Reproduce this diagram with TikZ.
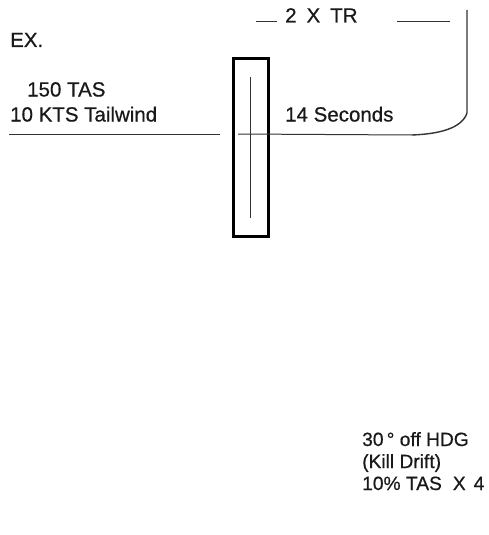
\documentclass[tikz,border=0pt]{standalone}
\usepackage{fontspec}
\setmainfont{Liberation Sans}[FakeBold=0.6]
\begin{document}
\begin{tikzpicture}[x=1pt,y=-1pt,
  lbl/.style={anchor=base west,inner sep=0pt,text=black!90,font=\fontsize{20.5}{24}\selectfont},
  lbls/.style={lbl,font=\fontsize{19.2}{22}\selectfont},
  thin line/.style={draw=black!80,line width=1pt},
  frame/.style={draw=black,line width=2.4pt}]
\useasboundingbox (0,0) rectangle (489,535);
% texts
\node[lbl] (ex) at (10,47) {EX.};
\node[lbl] (tr) at (285,22.5) {2\hspace{10pt}X\hspace{10pt}TR};
\node[lbl] (tas) at (27,96.5) {150 TAS};
\node[lbl] (tail) at (10,121.5) {10 KTS Tailwind};
\node[lbl] (sec) at (285,121.5) {14 Seconds};
\node[lbls] (hdg) at (362,446) {30\,°\ off HDG};
\node[lbls] (kill) at (362,468) {(Kill Drift)};
\node[lbls] (pct) at (362,490) {10\% TAS\hspace{11pt}X\hspace{8pt}4};
% coordinates
\coordinate (ul1) at (256,21.7);
\coordinate (ul2) at (277,21.7);
\coordinate (tl1) at (397,21.7);
\coordinate (tl2) at (450,21.7);
\coordinate (vt) at (467,10);
\coordinate (vb) at (467,113);
\coordinate (ce) at (412,135);
\coordinate (hl1) at (9,134);
\coordinate (hl2) at (220,134);
\coordinate (hr1) at (238,134);
\coordinate (il1) at (250,77);
\coordinate (il2) at (250,218);
% box
\node[frame,minimum width=35pt,minimum height=178pt,inner sep=0pt] (box) at (251,147.5) {};
% lines
\draw[thin line] (ul1) -- (ul2);
\draw[thin line] (tl1) -- (tl2);
\draw[thin line,line width=1.4pt] (vt) -- (vb) .. controls (462,128) and (440,134) .. (ce);
\draw[thin line] (hl1) -- (hl2);
\draw[thin line] (hr1) -- (ce);
\draw[thin line] (il1) -- (il2);
\end{tikzpicture}
\end{document}
